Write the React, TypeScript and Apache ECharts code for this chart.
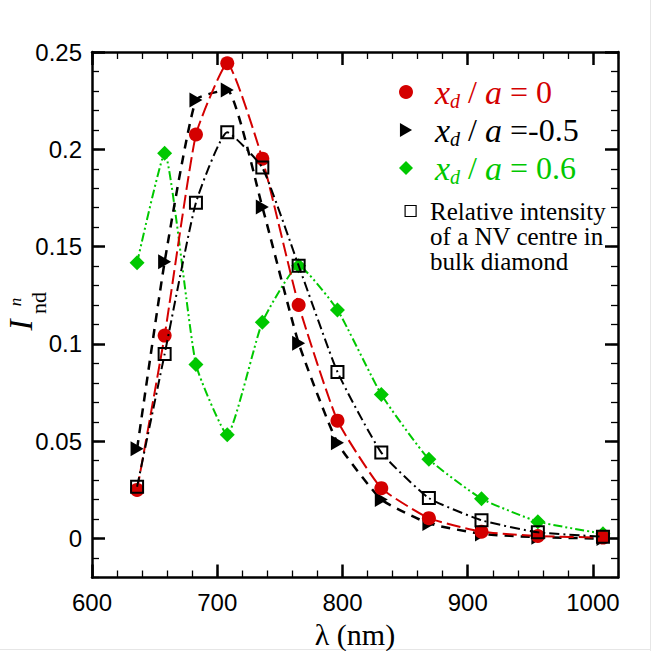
import React, { useEffect, useRef } from "react";
import * as echarts from "echarts";

const wavelengths = [636, 658, 683, 708, 736, 765, 796, 831, 869, 911, 956, 1008];
const intensityX0 = [0.025, 0.1043, 0.2076, 0.2442, 0.1952, 0.12, 0.0606, 0.0259, 0.0105, 0.0035, 0.0013, 0.0005];
const intensityXm05 = [0.0461, 0.1422, 0.2254, 0.2305, 0.1704, 0.1004, 0.0492, 0.0201, 0.0078, 0.0024, 0.0007, 0.0];
const intensityX06 = [0.1417, 0.198, 0.0894, 0.0533, 0.1112, 0.1402, 0.1175, 0.074, 0.0408, 0.0205, 0.0087, 0.0025];
const intensityBulk = [0.0266, 0.0948, 0.1726, 0.2088, 0.1906, 0.1402, 0.0856, 0.0442, 0.0208, 0.0094, 0.0032, 0.001];

const xMajorTicks = [600, 700, 800, 900, 1000];
const yMajorTicks = [0, 0.05, 0.1, 0.15, 0.2, 0.25];

const seriesNames = ["xd/a = 0", "xd/a = -0.5", "xd/a = 0.6", "Relative intensity of a NV centre in bulk diamond"];
const legendLabels: Record<string, string> = {
  "xd/a = 0": "{x0|x}{d|d}{s| / }{x|a}{s| = 0}",
  "xd/a = -0.5": "{x0|x}{d|d}{s| / }{x|a}{s| =-0.5}",
  "xd/a = 0.6": "{x0|x}{d|d}{s| / }{x|a}{s| = 0.6}",
};
const bulkLegendText = "\n\nRelative intensity\nof a NV centre in\nbulk diamond";

const RED = "#d40000";
const GREEN = "#00c800";
const SERIF = "Liberation Serif";
const SANS = "Liberation Sans";

const TRI = "path://M0,0L13,7.5L0,15Z";
const DIA = "path://M7,0L14,7L7,14L0,7Z";

function pairs(ys: number[]) {
  return wavelengths.map((x, i) => [x, ys[i]]);
}

export default function App() {
  const ref = useRef<HTMLDivElement>(null);
  useEffect(() => {
    document.body.style.margin = "0";
    if (!ref.current) return;
    const chart = echarts.init(ref.current, null, { renderer: "svg" });

    const minorX = (pos: string, labels: boolean) => ({
      type: "value",
      position: pos,
      min: 600,
      max: 1020,
      interval: 20,
      axisLine: { show: true, onZero: false, lineStyle: { color: "#000", width: 2.5 } },
      axisTick: { show: true, inside: true, length: 7, lineStyle: { color: "#000", width: 1.3 } },
      axisLabel: labels
        ? {
            show: true,
            formatter: (v: number) => (Math.round(v) % 100 === 0 ? String(Math.round(v)) : ""),
            fontFamily: SANS,
            fontSize: 24,
            color: "#000",
            margin: 13,
          }
        : { show: false },
      splitLine: { show: false },
      ...(labels
        ? {
            name: "λ (nm)",
            nameLocation: "middle",
            nameGap: 36,
            nameTextStyle: { fontFamily: SERIF, fontSize: 30, color: "#000" },
          }
        : {}),
    });
    const majorX = (pos: string) => ({
      type: "value",
      position: pos,
      min: 600,
      max: 1020,
      axisLine: { show: false, onZero: false },
      axisTick: { show: true, inside: true, length: 13, customValues: xMajorTicks, lineStyle: { color: "#000", width: 2.5 } },
      axisLabel: { show: false },
      splitLine: { show: false },
    });
    const minorY = (pos: string, labels: boolean) => ({
      type: "value",
      position: pos,
      min: -0.02,
      max: 0.25,
      interval: 0.01,
      axisLine: { show: true, onZero: false, lineStyle: { color: "#000", width: 2.5 } },
      axisTick: { show: true, inside: true, length: 7, lineStyle: { color: "#000", width: 1.3 } },
      axisLabel: labels
        ? {
            show: true,
            formatter: (v: number) => {
              const k = Math.round(v * 100);
              return k % 5 === 0 ? String(parseFloat((k / 100).toFixed(2))) : "";
            },
            fontFamily: SANS,
            fontSize: 24,
            color: "#000",
            margin: 10,
          }
        : { show: false },
      splitLine: { show: false },
    });
    const majorY = (pos: string) => ({
      type: "value",
      position: pos,
      min: -0.02,
      max: 0.25,
      axisLine: { show: false, onZero: false },
      axisTick: { show: true, inside: true, length: 13, customValues: yMajorTicks, lineStyle: { color: "#000", width: 2.5 } },
      axisLabel: { show: false },
      splitLine: { show: false },
    });

    const option: any = {
      animation: false,
      backgroundColor: "#fff",
      grid: { left: 92, right: 33, top: 52, bottom: 73.5, containLabel: false, outerBoundsMode: "none" },
      xAxis: [minorX("bottom", true), majorX("bottom"), minorX("top", false), majorX("top")],
      yAxis: [minorY("left", true), majorY("left"), minorY("right", false), majorY("right")],
      legend: [
        {
          left: 399,
          top: 73,
          orient: "vertical",
          padding: 0,
          itemGap: 0,
          itemWidth: 14,
          itemHeight: 14,
          symbolRotate: 0,
          selectedMode: false,
          data: [
            { name: seriesNames[0], icon: "circle", textStyle: { color: RED } },
            { name: seriesNames[1], icon: TRI, textStyle: { color: "#000" } },
            { name: seriesNames[2], icon: DIA, textStyle: { color: GREEN } },
          ],
          formatter: (name: string) => legendLabels[name],
          textStyle: {
            fontFamily: SERIF,
            fontSize: 32,
            lineHeight: 38,
            rich: {
              x0: { fontFamily: SERIF, fontStyle: "italic", fontSize: 34, lineHeight: 38, padding: [0, 0, 0, 17] },
              x: { fontFamily: SERIF, fontStyle: "italic", fontSize: 34, lineHeight: 38 },
              d: { fontFamily: SERIF, fontStyle: "italic", fontSize: 20, lineHeight: 14, verticalAlign: "bottom" },
              s: { fontFamily: SERIF, fontSize: 32, lineHeight: 38 },
            },
          },
        },
        {
          left: 404.5,
          top: 148.5,
          orient: "vertical",
          padding: 0,
          itemWidth: 11,
          itemHeight: 11,
          symbolRotate: 0,
          selectedMode: false,
          data: [
            {
              name: seriesNames[3],
              icon: "rect",
              itemStyle: { color: "#fff", borderColor: "#000", borderWidth: 1.2 },
            },
          ],
          formatter: () => bulkLegendText,
          textStyle: { fontFamily: SERIF, fontSize: 25, lineHeight: 25, color: "#000", padding: [0, 0, 0, 9] },
        },
      ],
      graphic: [
        {
          type: "text",
          x: 21,
          y: 325,
          rotation: Math.PI / 2,
          style: { text: "I", fontFamily: SERIF, fontStyle: "italic", fontSize: 33, fill: "#000", align: "center", verticalAlign: "middle" },
        },
        {
          type: "text",
          x: 15,
          y: 302,
          rotation: Math.PI / 2,
          style: { text: "n", fontFamily: SERIF, fontStyle: "italic", fontSize: 17, fill: "#000", align: "center", verticalAlign: "middle" },
        },
        {
          type: "text",
          x: 38,
          y: 303,
          rotation: Math.PI / 2,
          style: { text: "nd", fontFamily: SERIF, fontSize: 22, fill: "#000", align: "center", verticalAlign: "middle" },
        },
        {
          type: "line",
          shape: { x1: 650.5, y1: 0, x2: 650.5, y2: 651 },
          style: { stroke: "#e6e6e6", lineWidth: 1 },
        },
        {
          type: "line",
          shape: { x1: 0, y1: 649.5, x2: 651, y2: 649.5 },
          style: { stroke: "#e6e6e6", lineWidth: 1 },
        },
      ],
      series: [
        {
          name: seriesNames[2],
          type: "line",
          data: pairs(intensityX06),
          smooth: 0.15,
          symbol: DIA,
          symbolSize: 15,
          lineStyle: { color: GREEN, width: 2, type: [9, 3, 2, 3, 2, 3] },
          itemStyle: { color: GREEN },
          z: 2,
        },
        {
          name: seriesNames[1],
          type: "line",
          data: pairs(intensityXm05),
          smooth: 0.15,
          symbol: TRI,
          symbolSize: [13, 15],
          lineStyle: { color: "#000", width: 2.5, type: [9, 7] },
          itemStyle: { color: "#000" },
          z: 3,
        },
        {
          name: seriesNames[0],
          type: "line",
          data: pairs(intensityX0),
          smooth: 0.15,
          symbol: "circle",
          symbolSize: 14,
          lineStyle: { color: RED, width: 2, type: [14, 5] },
          itemStyle: { color: RED },
          z: 4,
        },
        {
          name: seriesNames[3],
          type: "line",
          data: pairs(intensityBulk),
          smooth: 0.15,
          symbol: "rect",
          symbolSize: 12,
          lineStyle: { color: "#000", width: 2, type: [10, 4, 2, 4] },
          itemStyle: { color: "rgba(0,0,0,0)", borderColor: "#000", borderWidth: 2 },
          z: 5,
        },
      ],
    };
    chart.setOption(option);
    return () => chart.dispose();
  }, []);
  return <div ref={ref} style={{ width: 651, height: 651 }} />;
}
